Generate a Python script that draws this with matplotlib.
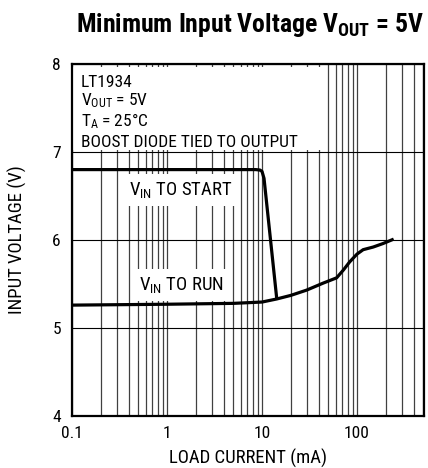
import numpy as np
import matplotlib
matplotlib.use("Agg")
import matplotlib.pyplot as plt
from matplotlib.patches import Rectangle
from matplotlib.ticker import LogLocator, FixedLocator, NullFormatter

FONT = 'Roboto Condensed'
plt.rcParams['font.family'] = [FONT, 'DejaVu Sans']
plt.rcParams['mathtext.fontset'] = 'custom'
plt.rcParams['mathtext.rm'] = FONT
plt.rcParams['mathtext.it'] = FONT
plt.rcParams['mathtext.bf'] = FONT + ':bold'

# curve data (load current mA, input voltage V)
start_current = [0.1, 1, 5, 8.6, 9.5, 10.0, 10.5, 14.3]
start_voltage = [6.80, 6.80, 6.80, 6.80, 6.795, 6.78, 6.70, 5.33]

run_current = [0.1, 1, 5, 10, 14.3, 20, 29.4, 44, 61, 72, 83.5, 100, 116, 148, 188, 243]
run_voltage = [5.26, 5.27, 5.28, 5.295, 5.33, 5.37, 5.43, 5.51, 5.57, 5.66, 5.75,
               5.84, 5.89, 5.92, 5.96, 6.01]

x_ticks = [0.1, 1, 10, 100]
x_ticklabels = ['0.1', '1', '10', '100']
y_ticks = [4, 5, 6, 7, 8]

fig = plt.figure(figsize=(4.28, 4.68), dpi=100)
ax = fig.add_axes([72 / 428, 1 - 416 / 468, 352 / 428, 352 / 468])

ax.set_xscale('log')
ax.set_xlim(0.1, 507)
ax.set_ylim(4, 8)

ax.xaxis.set_major_locator(FixedLocator(x_ticks))
ax.set_xticklabels(x_ticklabels)
ax.xaxis.set_minor_locator(LogLocator(base=10, subs=np.arange(2, 10)))
ax.xaxis.set_minor_formatter(NullFormatter())
ax.set_yticks(y_ticks)
ax.tick_params(which='both', length=0, labelsize=12.5)
ax.tick_params(axis='x', pad=7)
ax.tick_params(axis='y', pad=8)

# vertical grid on every decade sub-division, horizontal at each volt
ax.grid(True, which='both', axis='x', color='#404040', linewidth=0.9, zorder=1)
ax.grid(True, which='major', axis='y', color='black', linewidth=0.8, zorder=1)
ax.set_axisbelow(True)

for sp in ax.spines.values():
    sp.set_linewidth(1.6)

# white box behind the condition notes
ax.add_patch(Rectangle((0.0, 0.755), 0.713, 0.236, transform=ax.transAxes,
                       facecolor='white', edgecolor='none', zorder=2))
notes = ['LT1934', r'$\mathrm{V_{OUT}}$ = 5V', r'$\mathrm{T_A}$ = 25°C',
         'BOOST DIODE TIED TO OUTPUT']
note_y = [0.934, 0.882, 0.824, 0.765]
for txt, yy in zip(notes, note_y):
    ax.text(0.025, yy, txt, transform=ax.transAxes, fontsize=12.5,
            va='baseline', ha='left', zorder=3)

box = dict(facecolor='white', edgecolor='none', boxstyle='square,pad=0.3')
ax.text(0.31, 0.628, r'$\mathrm{V_{IN}}$ TO START', transform=ax.transAxes,
        fontsize=13.5, ha='center', va='baseline', bbox=box, zorder=3)
ax.text(0.31, 0.358, r'$\mathrm{V_{IN}}$ TO RUN', transform=ax.transAxes,
        fontsize=13.5, ha='center', va='baseline', bbox=box, zorder=3)

ax.plot(start_current, start_voltage, color='black', lw=2.3,
        solid_joinstyle='round', solid_capstyle='butt', zorder=4)
ax.plot(run_current, run_voltage, color='black', lw=2.3,
        solid_joinstyle='round', solid_capstyle='butt', zorder=4)

ax.set_xlabel('LOAD CURRENT (mA)', fontsize=13.5)
ax.set_ylabel('INPUT VOLTAGE (V)', fontsize=13.5)
ax.xaxis.set_label_coords(0.5, -0.093)
ax.yaxis.set_label_coords(-0.128, 0.5)

fig.text(250 / 428, 1 - 32 / 468, r'Minimum Input Voltage $\mathbf{V_{OUT}}$ = 5V',
         fontsize=18.5, fontweight='bold', ha='center', va='baseline')

fig.savefig('out.png', dpi=100)
